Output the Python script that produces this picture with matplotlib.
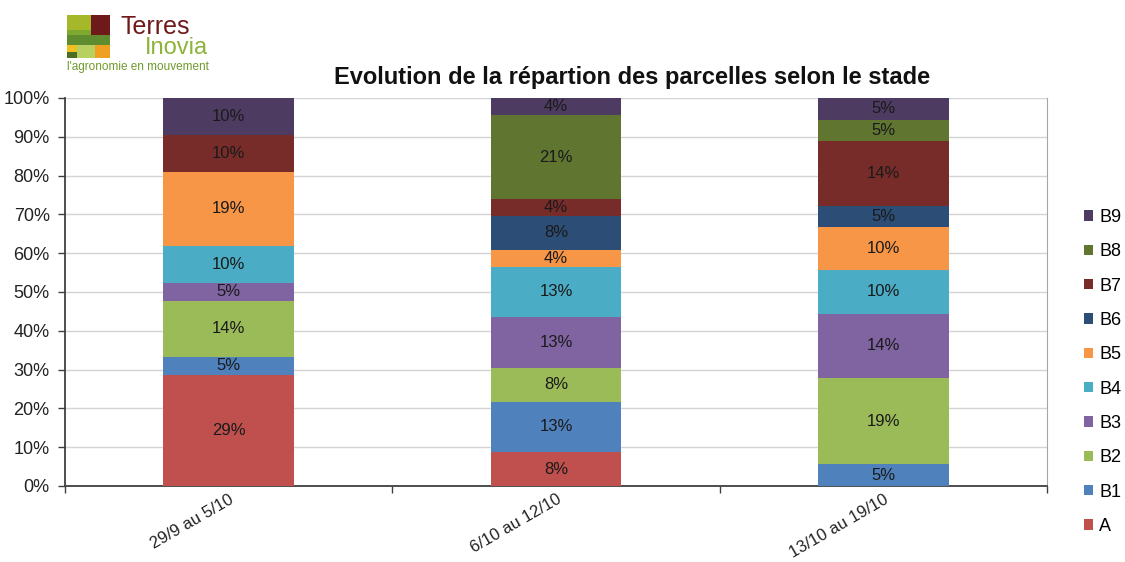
import numpy as np
import matplotlib
matplotlib.use("Agg")
import matplotlib.pyplot as plt
from matplotlib.patches import Patch, Rectangle

plt.rcParams['font.family'] = ['Liberation Sans', 'DejaVu Sans']

# periods (x categories)
periods = ["29/9 au 5/10", "6/10 au 12/10", "13/10 au 19/10"]
stades = ["A", "B1", "B2", "B3", "B4", "B5", "B6", "B7", "B8", "B9"]
colors = ["#C0504D", "#4F81BD", "#9BBB59", "#8064A2", "#4BACC6",
          "#F79646", "#2C4D75", "#772C2A", "#5F7530", "#4D3B62"]

# number of parcels per stade, for each period
counts_p1 = [6, 1, 3, 1, 2, 4, 0, 2, 0, 2]
counts_p2 = [2, 3, 2, 3, 3, 1, 2, 1, 5, 1]
counts_p3 = [0, 1, 4, 3, 2, 2, 1, 3, 1, 1]

# data labels as shown on the chart
labels_p1 = ["29%", "5%", "14%", "5%", "10%", "19%", "", "10%", "", "10%"]
labels_p2 = ["8%", "13%", "8%", "13%", "13%", "4%", "8%", "4%", "21%", "4%"]
labels_p3 = ["", "5%", "19%", "14%", "10%", "10%", "5%", "14%", "5%", "5%"]

counts = np.array([counts_p1, counts_p2, counts_p3], dtype=float)
shares = counts / counts.sum(axis=1, keepdims=True) * 100
all_labels = [labels_p1, labels_p2, labels_p3]

fig = plt.figure(figsize=(11.25, 5.62), dpi=100)
ax = fig.add_axes([65 / 1125, 1 - 486 / 562, (1047 - 65) / 1125, (486 - 98) / 562])

x = np.arange(len(periods))
bottom = np.zeros(len(periods))
for i, st in enumerate(stades):
    ax.bar(x, shares[:, i], 0.4, bottom=bottom, color=colors[i], label=st, zorder=3)
    for j in range(len(periods)):
        if shares[j, i] > 0 and all_labels[j][i]:
            ax.text(x[j], bottom[j] + shares[j, i] / 2, all_labels[j][i],
                    ha="center", va="center", fontsize=12, color="#1a1a1a", zorder=4)
    bottom += shares[:, i]

ax.set_xlim(-0.5, 2.5)
ax.set_ylim(0, 100)
ax.set_yticks(np.arange(0, 101, 10))
ax.set_yticklabels([f"{v}%" for v in range(0, 101, 10)], fontsize=13, color="#222222")
ax.yaxis.grid(True, color="#D4D4D4", linewidth=1, zorder=0)
ax.tick_params(axis="y", length=5, width=1, color="#404040", pad=6)

ax.set_xticks(x)
ax.set_xticklabels(periods, rotation=30, ha="right", rotation_mode="anchor",
                   fontsize=12, color="#222222")
ax.tick_params(axis="x", which="major", length=0, pad=4)
ax.set_xticks([-0.5, 0.5, 1.5, 2.5], minor=True)
ax.tick_params(axis="x", which="minor", length=5, width=1, color="#404040")

for side in ["left", "bottom"]:
    ax.spines[side].set_color("#404040")
    ax.spines[side].set_linewidth(1.3)
ax.spines["right"].set_color("#A6A6A6")
ax.spines["top"].set_visible(False)

fig.text(632 / 1125, 1 - 77 / 562, "Evolution de la répartion des parcelles selon le stade",
         ha="center", va="center", fontsize=17, fontweight="bold", color="#111111")

# legend, B9 on top
handles = [Patch(facecolor=colors[i]) for i in range(len(stades))][::-1]
fig.legend(handles, stades[::-1], loc="center left", bbox_to_anchor=(1084 / 1125, 1 - 372 / 562),
           frameon=False, fontsize=13, handlelength=0.5, handleheight=0.5, handletextpad=0.35,
           labelspacing=0.96, borderpad=0, borderaxespad=0)

# Terres Inovia logo
def logo_rect(x0, y0, x1, y1, c):
    fig.patches.append(Rectangle((x0 / 1125, 1 - y1 / 562), (x1 - x0) / 1125, (y1 - y0) / 562,
                                 transform=fig.transFigure, facecolor=c, edgecolor="none"))

logo_rect(67, 15, 91, 30, "#A5B829")
logo_rect(91, 15, 110, 35, "#6E1A1A")
logo_rect(67, 30, 91, 35, "#7FA830")
logo_rect(67, 35, 110, 45, "#5E8C2E")
logo_rect(67, 45, 77, 52, "#F0C020")
logo_rect(77, 45, 95, 58, "#B8D060")
logo_rect(95, 45, 110, 58, "#F0A020")
logo_rect(67, 52, 77, 58, "#4A6E22")
fig.text(120 / 1125, 1 - 27 / 562, "Terres", ha="left", va="center", fontsize=18, color="#6E1A1A")
fig.text(145 / 1125, 1 - 48 / 562, "Inovia", ha="left", va="center", fontsize=17, color="#8DB33A")
fig.text(67 / 1125, 1 - 67 / 562, "l'agronomie en mouvement", ha="left", va="center",
         fontsize=8.5, color="#6F9A2A")

fig.savefig("out.png", dpi=100)
